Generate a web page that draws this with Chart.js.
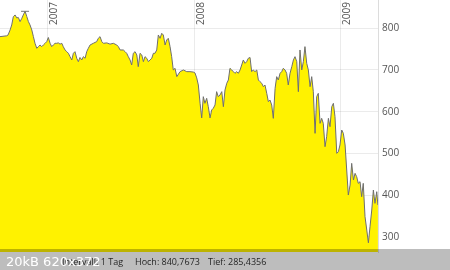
<!DOCTYPE html>
<html>
<head>
<meta charset="utf-8">
<script src="https://cdn.jsdelivr.net/npm/chart.js@4"></script>
<style>
  html, body { margin: 0; padding: 0; background: #fff; }
  #wrap { width: 450px; height: 270px; }
</style>
</head>
<body>
<div id="wrap"><canvas id="kursChart" width="450" height="270"></canvas></div>
<script>
// Kursverlauf (Zeit als Jahresbruchteil, Kurs in Punkten)
const zeit = [
  2006.674, 2006.720, 2006.729, 2006.743, 2006.754, 2006.765, 2006.777, 2006.788, 2006.799, 2006.811,
  2006.823, 2006.833, 2006.845, 2006.857, 2006.868, 2006.879, 2006.891, 2006.902, 2006.913, 2006.925,
  2006.936, 2006.947, 2006.959, 2006.970, 2006.982, 2006.993, 2007.004, 2007.016, 2007.027, 2007.038,
  2007.050, 2007.061, 2007.072, 2007.084, 2007.096, 2007.106, 2007.118, 2007.130, 2007.141, 2007.152,
  2007.164, 2007.175, 2007.186, 2007.198, 2007.209, 2007.220, 2007.232, 2007.243, 2007.255, 2007.266,
  2007.277, 2007.289, 2007.311, 2007.334, 2007.345, 2007.357, 2007.369, 2007.380, 2007.403, 2007.425,
  2007.448, 2007.471, 2007.482, 2007.494, 2007.516, 2007.528, 2007.539, 2007.550, 2007.562, 2007.573,
  2007.584, 2007.596, 2007.608, 2007.618, 2007.630, 2007.642, 2007.653, 2007.664, 2007.676, 2007.687,
  2007.698, 2007.710, 2007.721, 2007.732, 2007.744, 2007.755, 2007.767, 2007.778, 2007.789, 2007.801,
  2007.812, 2007.823, 2007.835, 2007.846, 2007.857, 2007.869, 2007.881, 2007.903, 2007.926, 2007.949,
  2007.971, 2007.994, 2008.005, 2008.017, 2008.028, 2008.040, 2008.051, 2008.062, 2008.073, 2008.085,
  2008.096, 2008.108, 2008.119, 2008.130, 2008.142, 2008.153, 2008.164, 2008.176, 2008.188, 2008.199,
  2008.210, 2008.222, 2008.233, 2008.244, 2008.256, 2008.267, 2008.278, 2008.290, 2008.301, 2008.313,
  2008.324, 2008.335, 2008.347, 2008.358, 2008.369, 2008.381, 2008.392, 2008.403, 2008.415, 2008.427,
  2008.438, 2008.449, 2008.461, 2008.472, 2008.483, 2008.495, 2008.506, 2008.517, 2008.529, 2008.540,
  2008.552, 2008.563, 2008.574, 2008.586, 2008.597, 2008.608, 2008.620, 2008.631, 2008.642, 2008.654,
  2008.666, 2008.677, 2008.688, 2008.700, 2008.711, 2008.722, 2008.734, 2008.745, 2008.756, 2008.768,
  2008.779, 2008.791, 2008.802, 2008.813, 2008.825, 2008.836, 2008.847, 2008.859, 2008.870, 2008.881,
  2008.893, 2008.904, 2008.916, 2008.927, 2008.939, 2008.950, 2008.961, 2008.973, 2008.984, 2008.995,
  2009.007, 2009.018, 2009.030, 2009.041, 2009.052, 2009.064, 2009.075, 2009.087, 2009.098, 2009.109,
  2009.120, 2009.132, 2009.143, 2009.154, 2009.166, 2009.178, 2009.189, 2009.200, 2009.212, 2009.223,
  2009.234, 2009.246, 2009.254
];
const kurs = [
  780, 782, 784, 796, 808, 828, 832, 825, 826, 816,
  824, 832, 840.8, 828, 816, 808, 796, 780, 764, 752,
  756, 760, 756, 760, 764, 768, 778, 764, 756, 760,
  764, 764, 765, 762, 764, 756, 748, 744, 740, 732,
  724, 740, 744, 728, 720, 730, 724, 732, 728, 744,
  752, 760, 764, 768, 776, 780, 768, 764, 765, 762,
  764, 760, 756, 748, 748, 744, 740, 732, 724, 712,
  740, 744, 736, 708, 740, 736, 720, 732, 728, 720,
  724, 728, 740, 740, 748, 784, 776, 788, 784, 760,
  772, 776, 756, 732, 700, 704, 684, 696, 700, 696,
  696, 695, 693, 681, 664, 620, 585, 636, 620, 632,
  612, 585, 604, 608, 616, 648, 636, 640, 648, 612,
  652, 668, 676, 704, 700, 696, 692, 696, 692, 700,
  712, 724, 716, 720, 728, 730, 696, 700, 696, 700,
  676, 672, 668, 660, 664, 644, 624, 628, 616, 584,
  656, 684, 676, 692, 696, 704, 700, 692, 664, 692,
  708, 724, 732, 720, 648, 748, 700, 720, 756, 716,
  700, 660, 684, 648, 548, 636, 644, 572, 584, 572,
  516, 540, 584, 564, 612, 620, 588, 500, 504, 520,
  556, 548, 520, 460, 400, 424, 476, 436, 452, 444,
  428, 432, 396, 428, 348, 316, 285.4, 324, 364, 412,
  380, 408, 376
];
const jahre = [2007, 2008, 2009];
const yTicks = [300, 400, 500, 600, 700, 800];
const hoch = { x: 2006.845, y: 840.7673 };
const tief = { x: 2009.189, y: 285.4356 };
const fussText = ['Intervall: 1 Tag', 'Hoch: 840,7673', 'Tief: 285,4356'];

const punkte = zeit.map((t, i) => ({ x: t, y: kurs[i] }));

// Jahreszahlen, Fusszeile und Thumbnail-Leiste
const extras = {
  id: 'extras',
  afterDraw(chart) {
    const ctx = chart.ctx;
    const xs = chart.scales.x;
    ctx.save();
    ctx.fillStyle = '#555';
    ctx.font = '10px "Open Sans"';
    ctx.textAlign = 'left';
    ctx.textBaseline = 'alphabetic';
    jahre.forEach(j => {
      const px = xs.getPixelForValue(j);
      ctx.save();
      ctx.translate(px + 9.5, 25);
      ctx.rotate(-Math.PI / 2);
      ctx.fillText(String(j), 0, 0);
      ctx.restore();
    });
    // Fusszeile
    ctx.fillStyle = '#333';
    ctx.font = '9px "Open Sans"';
    ctx.fillText(fussText[0], 62, 265);
    ctx.fillText(fussText[1], 135, 265);
    ctx.fillText(fussText[2], 208, 265);
    // dunkle Leiste vom Forum-Thumbnail
    ctx.fillStyle = 'rgba(0,0,0,0.26)';
    ctx.fillRect(0, 249, 450, 21);
    ctx.fillStyle = '#fff';
    ctx.font = '13px "DejaVu Sans"';
    ctx.fillText('20kB 620x372', 6, 266);
    ctx.restore();
  }
};

new Chart(document.getElementById('kursChart'), {
  type: 'line',
  data: {
    datasets: [{
      data: punkte,
      borderColor: '#6e6e6e',
      borderWidth: 1,
      backgroundColor: '#fff200',
      fill: 'start',
      tension: 0,
      pointRadius: 0
    }, {
      type: 'scatter',
      data: [hoch, tief],
      pointStyle: 'line',
      pointRadius: 4,
      borderColor: '#777',
      borderWidth: 1
    }]
  },
  options: {
    responsive: false,
    animation: false,
    layout: { autoPadding: false, padding: { left: 0, top: 0, right: 0, bottom: 18 } },
    plugins: { legend: { display: false }, tooltip: { enabled: false } },
    scales: {
      x: {
        type: 'linear',
        min: 2006.674,
        max: 2009.2546,
        z: 1,
        afterBuildTicks: s => { s.ticks = jahre.map(v => ({ value: v })); },
        afterFit: s => { s.height = 0; s.paddingLeft = 0; s.paddingRight = 0; },
        ticks: { display: false },
        grid: { color: 'rgba(0,0,0,0.08)', drawTicks: false },
        border: { display: false }
      },
      y: {
        position: 'right',
        min: 263.3,
        max: 867.9,
        z: 1,
        afterBuildTicks: s => { s.ticks = yTicks.map(v => ({ value: v })); },
        afterFit: s => { s.width = 72; s.paddingTop = 0; s.paddingBottom = 0; },
        ticks: { color: '#555', padding: 4, font: { family: 'Open Sans', size: 10 } },
        grid: { color: 'rgba(0,0,0,0.08)', drawTicks: false },
        border: { display: true, color: '#dcdcdc' }
      }
    }
  },
  plugins: [extras]
});
</script>
</body>
</html>
